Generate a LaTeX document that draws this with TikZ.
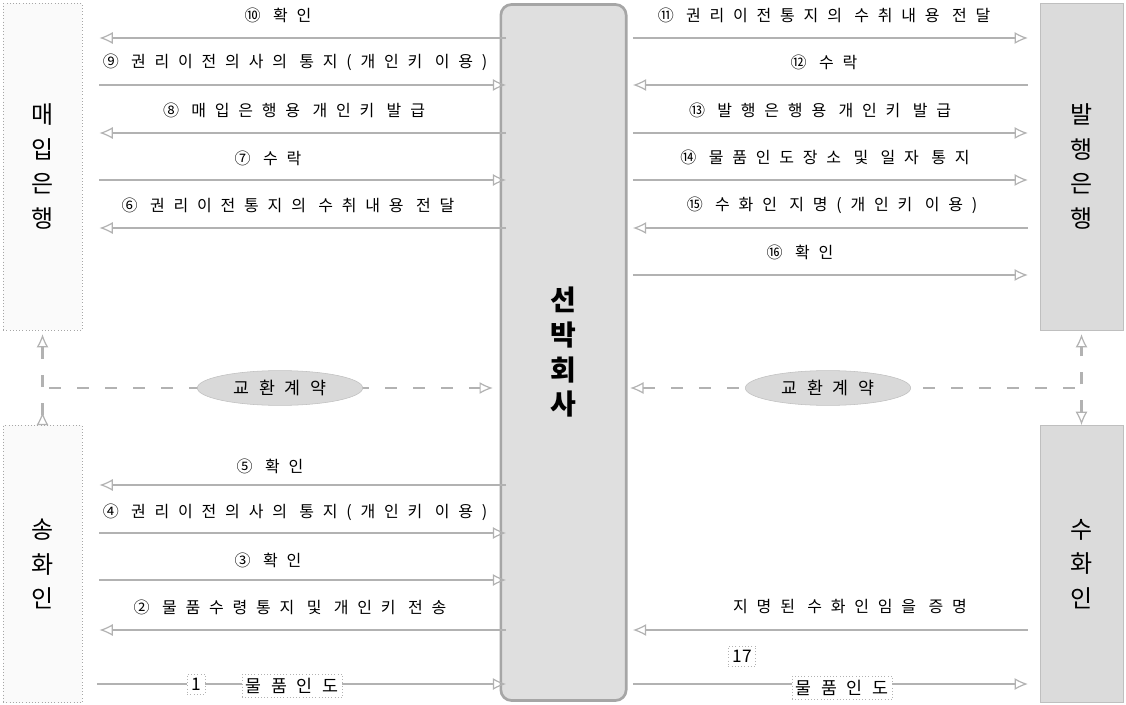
\documentclass[tikz,border=0pt]{standalone}
\usepackage{fontspec}
\setmainfont{Noto Sans CJK KR}
\newfontfamily\spaced[LetterSpace=55]{Noto Sans CJK KR}
\usetikzlibrary{arrows.meta,shapes.geometric}
\begin{document}
\begin{tikzpicture}[x=0.75pt,y=-0.75pt,
    party/.style={draw=gray!70,dotted,fill=gray!4,minimum width=59pt,align=center,
      font=\fontsize{18}{26}\selectfont},
    shaded/.style={party,solid,draw=gray!50,fill=gray!28,minimum width=62pt},
    hub/.style={draw=gray!70,line width=2pt,rounded corners=8pt,fill=gray!25,
      minimum width=94pt,minimum height=522pt,align=center,font=\bfseries\fontsize{21}{26}\selectfont},
    lbl/.style={font=\spaced\fontsize{12}{14}\selectfont,inner sep=1pt},
    tip/.style={-{Latex[open,length=10pt,width=9pt,line width=0.9pt]}},
    flow/.style={draw=gray!60,line width=1.8pt,tip},
    pact/.style={draw=gray!60,line width=1.8pt,dash pattern=on 9pt off 12pt},
    deal/.style={ellipse,draw=gray!50,fill=gray!30,minimum width=124pt,minimum height=21pt,
      font=\spaced\fontsize{13}{15}\selectfont},
    tag/.style={draw=gray!60,dotted,fill=white,inner sep=3pt,
      font=\fontsize{13}{15}\selectfont}]
    \useasboundingbox (0,0) rectangle (1126,705);
    \node[party,minimum height=245pt] (buyer) at (42.5,166.5) {매\\입\\은\\행};
    \node[party,minimum height=208pt] (shipper) at (42.5,564) {송\\화\\인};
    \node[hub] (ship) at (563.5,352.5) {선\\박\\회\\사};
    \node[shaded,minimum height=245pt] (issuer) at (1081.5,166.5) {발\\행\\은\\행};
    \node[shaded,minimum height=208pt] (consignee) at (1081.5,564) {수\\화\\인};
    % buyer side
    \node[lbl] (t10) at (278,15) {⑩ 확인};
    \node[lbl] (t9) at (295,62) {⑨ 권리이전의사의 통지(개인키 이용)};
    \node[lbl] (t8) at (294,110) {⑧ 매입은행용 개인키 발급};
    \node[lbl] (t7) at (268,158) {⑦ 수락};
    \node[lbl] (t6) at (288,205) {⑥ 권리이전통지의 수취내용 전달};
    \path (ship.west |- 0,38) edge[flow,shorten <=-5pt,shorten >=13pt] (buyer.east |- 0,38);
    \path (buyer.east |- 0,85) edge[flow,shorten >=-5pt,shorten <=13pt] (ship.west |- 0,85);
    \path (ship.west |- 0,133) edge[flow,shorten <=-5pt,shorten >=13pt] (buyer.east |- 0,133);
    \path (buyer.east |- 0,180) edge[flow,shorten >=-5pt,shorten <=13pt] (ship.west |- 0,180);
    \path (ship.west |- 0,228) edge[flow,shorten <=-5pt,shorten >=13pt] (buyer.east |- 0,228);
    % shipper side
    \node[lbl] (t5) at (270,466) {⑤ 확인};
    \node[lbl] (t4) at (295,512) {④ 권리이전의사의 통지(개인키 이용)};
    \node[lbl] (t3) at (268,560) {③ 확인};
    \node[lbl] (t2) at (290,607) {② 물품수령통지 및 개인키 전송};
    \path (ship.west |- 0,485) edge[flow,shorten <=-5pt,shorten >=13pt] (shipper.east |- 0,485);
    \path (shipper.east |- 0,533) edge[flow,shorten >=-5pt,shorten <=13pt] (ship.west |- 0,533);
    \path (shipper.east |- 0,580) edge[flow,shorten >=-5pt,shorten <=13pt] (ship.west |- 0,580);
    \path (ship.west |- 0,630) edge[flow,shorten <=-5pt,shorten >=13pt] (shipper.east |- 0,630);
    \path (shipper.east |- 0,684) edge[flow,shorten >=-5pt,shorten <=11pt] (ship.west |- 0,684);
    \node[tag] (n1) at (196,684) {1};
    \node[tag,font=\spaced\fontsize{13}{15}\selectfont] (give1) at (292,686) {물품인도};
    % issuer side
    \node[lbl] (t11) at (824,15) {⑪ 권리이전통지의 수취내용 전달};
    \node[lbl] (t12) at (824,62) {⑫ 수락};
    \node[lbl] (t13) at (820,110) {⑬ 발행은행용 개인키 발급};
    \node[lbl] (t14) at (825,157) {⑭ 물품인도장소 및 일자 통지};
    \node[lbl] (t15) at (832,205) {⑮ 수화인 지명(개인키 이용)};
    \node[lbl] (t16) at (800,252) {⑯ 확인};
    \path (ship.east |- 0,38) edge[flow,shorten <=4pt,shorten >=9pt] (issuer.west |- 0,38);
    \path (issuer.west |- 0,85) edge[flow,shorten >=4pt,shorten <=9pt] (ship.east |- 0,85);
    \path (ship.east |- 0,133) edge[flow,shorten <=4pt,shorten >=9pt] (issuer.west |- 0,133);
    \path (ship.east |- 0,180) edge[flow,shorten <=4pt,shorten >=9pt] (issuer.west |- 0,180);
    \path (issuer.west |- 0,228) edge[flow,shorten >=4pt,shorten <=9pt] (ship.east |- 0,228);
    \path (ship.east |- 0,275) edge[flow,shorten <=4pt,shorten >=9pt] (issuer.west |- 0,275);
    % consignee side
    \node[lbl] (t18) at (850,607) {지명된 수화인임을 증명};
    \path (consignee.west |- 0,630) edge[flow,shorten >=4pt,shorten <=9pt] (ship.east |- 0,630);
    \path (ship.east |- 0,684) edge[flow,shorten <=4pt,shorten >=9pt] (consignee.west |- 0,684);
    \node[tag] (n17) at (742,656) {17};
    \node[tag,font=\spaced\fontsize{13}{15}\selectfont] (give17) at (842,688) {물품인도};
    % exchange contracts
    \draw [pact,{Latex[open,reversed,length=10pt,width=9pt,line width=0.9pt]}-{Latex[open,length=10pt,width=9pt,line width=0.9pt]},shorten >=3pt](shipper.north) -- (buyer.south);
    \draw [pact,{Latex[open,length=10pt,width=9pt,line width=0.9pt]}-{Latex[open,length=10pt,width=9pt,line width=0.9pt]},shorten >=3pt](consignee.north) -- (issuer.south);
    \draw [pact,tip,shorten <=5pt,shorten >=5pt](buyer.south |- 0,388) -- (ship.west |- 0,388);
    \draw [pact,tip,shorten <=5pt,shorten >=2pt](issuer.south |- 0,388) -- (ship.east |- 0,388);
    \node[deal] (deal1) at (280,388) {교환계약};
    \node[deal] (deal2) at (828,388) {교환계약};
\end{tikzpicture}
\end{document}
